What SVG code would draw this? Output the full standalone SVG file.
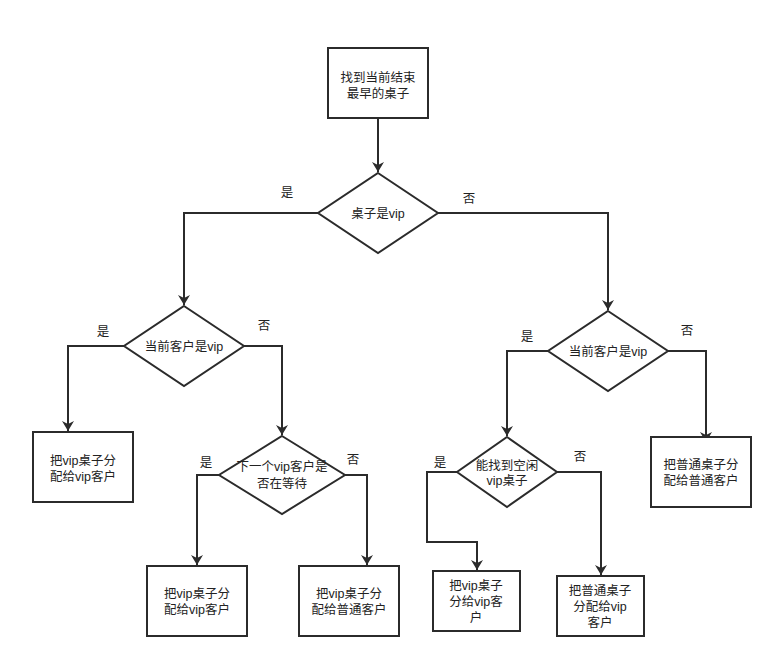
<svg xmlns="http://www.w3.org/2000/svg" width="768" height="666" viewBox="0 0 768 666">
<style>
.n{fill:#fff;stroke:#2b2b2b;stroke-width:2}
.c{fill:none;stroke:#2b2b2b;stroke-width:2}
text{font-family:"Liberation Sans","Noto Sans CJK SC",sans-serif;font-size:12.5px;fill:#222;text-anchor:middle}
</style>
<defs>
<marker id="a" viewBox="0 0 10 12" refX="10" refY="6" markerWidth="10" markerHeight="12" markerUnits="userSpaceOnUse" orient="auto">
<path d="M0,0 L10,6 L0,12 L3,6 Z" fill="#2b2b2b"/>
</marker>
</defs>
<rect width="768" height="666" fill="#fff"/>
<g id="connectors">
<path class="c" d="M378,118 V172" marker-end="url(#a)"/>
<path class="c" d="M318,213 H184 V305" marker-end="url(#a)"/>
<path class="c" d="M438,213 H608 V310" marker-end="url(#a)"/>
<path class="c" d="M124,346 H68 V431" marker-end="url(#a)"/>
<path class="c" d="M244,346 H282 V435" marker-end="url(#a)"/>
<path class="c" d="M219,475 H197 V565" marker-end="url(#a)"/>
<path class="c" d="M345,475 H367 V565" marker-end="url(#a)"/>
<path class="c" d="M548,351 H507 V436" marker-end="url(#a)"/>
<path class="c" d="M668,351 H706 V442" marker-end="url(#a)"/>
<path class="c" d="M457,472 H427 V542 H477 V570" marker-end="url(#a)"/>
<path class="c" d="M557,472 H601 V575" marker-end="url(#a)"/>
<text x="287" y="197">是</text>
<text x="469" y="203">否</text>
<text x="103" y="336">是</text>
<text x="264" y="330">否</text>
<text x="206" y="467">是</text>
<text x="353" y="464">否</text>
<text x="527" y="341">是</text>
<text x="687" y="335">否</text>
<text x="440" y="467">是</text>
<text x="580" y="461">否</text>
</g>
<g id="start">
<rect class="n" x="328" y="48" width="100" height="70"/>
<text x="378" y="82">找到当前结束</text>
<text x="378" y="98">最早的桌子</text>
</g>
<g id="d1">
<polygon class="n" points="378,173 438,213 378,253 318,213"/>
<text x="378" y="218">桌子是vip</text>
</g>
<g id="d2">
<polygon class="n" points="184,306 244,346 184,386 124,346"/>
<text x="184" y="351">当前客户是vip</text>
</g>
<g id="boxA">
<rect class="n" x="33" y="432" width="100" height="70"/>
<text x="83" y="465">把vip桌子分</text>
<text x="83" y="481">配给vip客户</text>
</g>
<g id="d3">
<polygon class="n" points="282,436 345,475 282,514 219,475"/>
<text x="282" y="471">下一个vip客户是</text>
<text x="282" y="488">否在等待</text>
</g>
<g id="boxB">
<rect class="n" x="147" y="566" width="100" height="70"/>
<text x="197" y="598">把vip桌子分</text>
<text x="197" y="614">配给vip客户</text>
</g>
<g id="boxC">
<rect class="n" x="299" y="566" width="100" height="70"/>
<text x="349" y="598">把vip桌子分</text>
<text x="349" y="614">配给普通客户</text>
</g>
<g id="d4">
<polygon class="n" points="608,311 668,351 608,391 548,351"/>
<text x="608" y="356">当前客户是vip</text>
</g>
<g id="boxD">
<rect class="n" x="651" y="437" width="100" height="70"/>
<text x="701" y="469">把普通桌子分</text>
<text x="701" y="485">配给普通客户</text>
</g>
<g id="d5">
<polygon class="n" points="507,437 557,472 507,507 457,472"/>
<text x="507" y="470">能找到空闲</text>
<text x="507" y="485">vip桌子</text>
</g>
<g id="boxE">
<rect class="n" x="433" y="571" width="87" height="60"/>
<text x="476" y="590">把vip桌子</text>
<text x="476" y="606">分给vip客</text>
<text x="476" y="622">户</text>
</g>
<g id="boxF">
<rect class="n" x="557" y="576" width="87" height="60"/>
<text x="600" y="595">把普通桌子</text>
<text x="600" y="611">分配给vip</text>
<text x="600" y="627">客户</text>
</g>
</svg>
